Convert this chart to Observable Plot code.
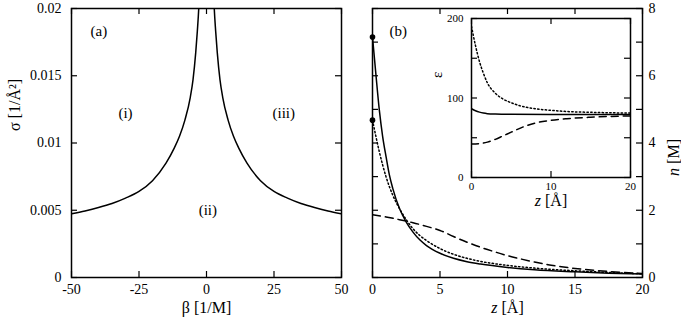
<!DOCTYPE html>
<html><head><meta charset="utf-8">
<script src="https://cdn.jsdelivr.net/npm/d3@7"></script>
<script src="https://cdn.jsdelivr.net/npm/@observablehq/plot@0.6"></script>
<style>
body{margin:0;background:#fff;}
#wrap{position:relative;width:681px;height:323px;overflow:hidden;background:#fff;}
#wrap svg{position:absolute;top:0;font-family:"Liberation Serif","Times New Roman",serif !important;}
#wrap svg text, #wrap svg tspan{font-family:"Liberation Serif","Times New Roman",serif !important;}
</style></head><body><div id="wrap"></div>
<script>
// ---- Panel (a): phase boundary sigma(beta) ----
const betaL  = [-50, -45, -40, -35, -30, -25, -20, -15, -12, -10, -8, -6, -5, -4, -3.4, -2.8, -2.5];
const sigmaL = [0.00474, 0.00495, 0.0052, 0.0055, 0.0059, 0.0064, 0.0072, 0.0085, 0.0096, 0.0105, 0.0117, 0.0134, 0.0147, 0.0167, 0.0183, 0.0203, 0.0218];
const betaR  = [2.5, 2.8, 3.4, 4, 5, 6, 8, 10, 12, 15, 20, 25, 30, 35, 40, 45, 50];
const sigmaR = [0.0218, 0.0203, 0.0183, 0.0167, 0.0147, 0.0134, 0.0117, 0.0105, 0.0096, 0.0085, 0.0072, 0.0064, 0.0059, 0.0055, 0.0052, 0.00495, 0.00474];
const aXTicks = [-50, -25, 0, 25, 50];
const aYTicks = [0, 0.005, 0.01, 0.015, 0.02];

// ---- Panel (b): density profiles n(z) ----
const zSolid = [0, 0.25, 0.5, 0.75, 1, 1.25, 1.5, 2, 2.5, 3, 3.5, 4, 5, 6, 7, 8, 10, 12, 15, 17.5, 20];
const nSolid = [7.15, 6.05, 5.0, 4.2, 3.6, 3.05, 2.65, 2.05, 1.65, 1.35, 1.12, 0.95, 0.72, 0.57, 0.47, 0.40, 0.30, 0.23, 0.17, 0.13, 0.10];
const zDot = [0, 0.25, 0.5, 0.75, 1, 1.5, 2, 2.5, 3, 3.5, 4, 5, 6, 7, 8, 10, 12, 15, 17.5, 20];
const nDot = [4.68, 4.2, 3.75, 3.35, 3.0, 2.45, 2.05, 1.72, 1.45, 1.25, 1.1, 0.86, 0.69, 0.57, 0.48, 0.36, 0.28, 0.2, 0.15, 0.11];
const zDash = [0, 1, 2, 3, 4, 5, 6, 7, 8, 9, 10, 11, 12, 13, 14, 15, 17.5, 20];
const nDash = [1.87, 1.80, 1.72, 1.63, 1.52, 1.40, 1.22, 1.05, 0.90, 0.77, 0.65, 0.55, 0.46, 0.38, 0.32, 0.27, 0.18, 0.12];
const contactZ = [0, 0];
const contactN = [7.15, 4.68];
const bXTicks = [0, 5, 10, 15, 20];
const bYTicks = [0, 1, 2, 3, 4, 5, 6, 7, 8];
const bYLabels = [0, 2, 4, 6, 8];

// ---- Inset: dielectric profiles eps(z) ----
const zEpsSolid = [0, 0.5, 1, 1.5, 2, 3, 5, 10, 20];
const epsSolid  = [86.5, 84, 82.2, 81, 80.3, 79.8, 79.5, 79.3, 79.3];
const zEpsDot = [0, 0.5, 1, 1.5, 2, 3, 4, 5, 6, 8, 10, 12, 15, 20];
const epsDot  = [190, 166, 146, 131, 119, 106, 98.5, 94, 90.5, 86.5, 84.5, 83, 82, 81];
const zEpsDash = [0, 1, 2, 3, 4, 5, 6, 7, 8, 10, 12, 15, 20];
const epsDash  = [42, 42.5, 44.5, 48, 52.5, 57, 61.5, 65.5, 68.5, 72, 74, 75.8, 77.5];
const iXTicks = [0, 10, 20];
const iYTicks = [0, 50, 100, 150, 200];
const iYLabels = [0, 100, 200];

const toRows = (xs, ys) => xs.map((x, i) => ({x, y: ys[i]}));
const FONT = "Liberation Serif, Times New Roman, serif";
const TL = 6; // tick length
const fmt = d => String(d);
const DOTS = "1.4,2.4";

function inwardTicks(xt, yt, fw, fh, sw = 1) {
  return [
    Plot.tickX(xt, {x: d => d, insetTop: fh - TL, stroke: "black", strokeWidth: sw}),
    Plot.tickX(xt, {x: d => d, insetBottom: fh - TL, stroke: "black", strokeWidth: sw}),
    Plot.tickY(yt, {y: d => d, insetRight: fw - TL, stroke: "black", strokeWidth: sw}),
    Plot.tickY(yt, {y: d => d, insetLeft: fw - TL, stroke: "black", strokeWidth: sw})
  ];
}

// Panel (a)
const A = {w: 351, h: 323, ml: 71, mr: 10, mt: 8, mb: 46};
const aFW = A.w - A.ml - A.mr, aFH = A.h - A.mt - A.mb;
const pa = Plot.plot({
  width: A.w, height: A.h, marginLeft: A.ml, marginRight: A.mr, marginTop: A.mt, marginBottom: A.mb,
  x: {domain: [-50, 50]}, y: {domain: [0, 0.02]},
  style: {fontFamily: FONT, fontSize: "14px", color: "black", background: "transparent", overflow: "visible"},
  marks: [
    Plot.line(toRows(betaL, sigmaL), {x: "x", y: "y", stroke: "black", strokeWidth: 1.5, curve: "monotone-x", clip: true}),
    Plot.line(toRows(betaR, sigmaR), {x: "x", y: "y", stroke: "black", strokeWidth: 1.5, curve: "monotone-x", clip: true}),
    ...inwardTicks(aXTicks, aYTicks, aFW, aFH, 1.2),
    Plot.frame({stroke: "black", strokeWidth: 1.5}),
    Plot.axisX({ticks: aXTicks, tickSize: 0, tickPadding: 7, tickFormat: fmt, label: null, fontSize: 14}),
    Plot.axisY({ticks: aYTicks, tickSize: 0, tickPadding: 10, tickFormat: fmt, label: null, fontSize: 14}),
    Plot.text(["σ [1/Å²]"], {frameAnchor: "left", rotate: -90, dx: -57, dy: -12, fontSize: 16}),
    Plot.text(["β [1/M]"], {frameAnchor: "bottom", dy: 35, fontSize: 16}),
    Plot.text(["(a)"], {frameAnchor: "top-left", dx: 19, dy: 17, fontSize: 15}),
    Plot.text(["(i)"], {x: -30, y: 0.0122, fontSize: 15}),
    Plot.text(["(iii)"], {x: 28.6, y: 0.0122, fontSize: 15}),
    Plot.text(["(ii)"], {x: 0.5, y: 0.005, fontSize: 15})
  ]
});

// Panel (b)
const B = {w: 341, h: 323, ml: 32, mr: 39, mt: 8, mb: 46};
const bFW = B.w - B.ml - B.mr, bFH = B.h - B.mt - B.mb;
const pb = Plot.plot({
  width: B.w, height: B.h, marginLeft: B.ml, marginRight: B.mr, marginTop: B.mt, marginBottom: B.mb,
  x: {domain: [0, 20]}, y: {domain: [0, 8]},
  style: {fontFamily: FONT, fontSize: "14px", color: "black", background: "transparent", overflow: "visible"},
  marks: [
    Plot.line(toRows(zSolid, nSolid), {x: "x", y: "y", stroke: "black", strokeWidth: 1.5, curve: "monotone-x", clip: true}),
    Plot.line(toRows(zDot, nDot), {x: "x", y: "y", stroke: "black", strokeWidth: 1.5, strokeDasharray: DOTS, curve: "monotone-x", clip: true}),
    Plot.line(toRows(zDash, nDash), {x: "x", y: "y", stroke: "black", strokeWidth: 1.5, strokeDasharray: "8,5", curve: "monotone-x", clip: true}),
    ...inwardTicks(bXTicks, bYTicks, bFW, bFH, 1.2),
    Plot.frame({stroke: "black", strokeWidth: 1.5}),
    Plot.dot(toRows(contactZ, contactN), {x: "x", y: "y", r: 2.8, fill: "black"}),
    Plot.axisX({ticks: bXTicks, tickSize: 0, tickPadding: 7, tickFormat: fmt, label: null, fontSize: 14}),
    Plot.axisY({anchor: "right", ticks: bYLabels, tickSize: 0, tickPadding: 6, tickFormat: fmt, label: null, fontSize: 14}),
    Plot.text(["z [Å]"], {frameAnchor: "bottom", dy: 35, fontSize: 16}),
    Plot.text(["n [M]"], {frameAnchor: "right", rotate: -90, dx: 31, dy: -4, fontSize: 16}),
    Plot.text(["(b)"], {frameAnchor: "top-left", dx: 17, dy: 17, fontSize: 15})
  ]
});

// Inset
const I = {w: 220, h: 215, ml: 51, mr: 10, mt: 18, mb: 38};
const iFW = I.w - I.ml - I.mr, iFH = I.h - I.mt - I.mb;
const pi = Plot.plot({
  width: I.w, height: I.h, marginLeft: I.ml, marginRight: I.mr, marginTop: I.mt, marginBottom: I.mb,
  x: {domain: [0, 20]}, y: {domain: [0, 200]},
  style: {fontFamily: FONT, fontSize: "11px", color: "black", background: "transparent", overflow: "visible"},
  marks: [
    Plot.line(toRows(zEpsSolid, epsSolid), {x: "x", y: "y", stroke: "black", strokeWidth: 1.5, curve: "monotone-x", clip: true}),
    Plot.line(toRows(zEpsDot, epsDot), {x: "x", y: "y", stroke: "black", strokeWidth: 1.5, strokeDasharray: DOTS, curve: "monotone-x", clip: true}),
    Plot.line(toRows(zEpsDash, epsDash), {x: "x", y: "y", stroke: "black", strokeWidth: 1.5, strokeDasharray: "7,5", curve: "monotone-x", clip: true}),
    ...inwardTicks(iXTicks, iYTicks, iFW, iFH, 1.2),
    Plot.frame({stroke: "black", strokeWidth: 1.5}),
    Plot.axisX({ticks: iXTicks, tickSize: 0, tickPadding: 5, tickFormat: fmt, label: null, fontSize: 11}),
    Plot.axisY({ticks: iYLabels, tickSize: 0, tickPadding: 8, tickFormat: fmt, label: null, fontSize: 11}),
    Plot.text(["z [Å]"], {frameAnchor: "bottom", dy: 28, fontSize: 16}),
    Plot.text(["ε"], {frameAnchor: "left", rotate: -90, dx: -34, dy: -20, fontSize: 15})
  ]
});

const wrap = document.getElementById("wrap");
pa.style.left = "0px";
pb.style.left = "340px";
pi.style.left = "420px";
wrap.append(pa, pb, pi);

// italic variables in axis labels
function italicize(svg, full, varName) {
  d3.select(svg).selectAll("text").filter(function() { return this.textContent === full; })
    .each(function() {
      const t = d3.select(this);
      t.text(null);
      t.append("tspan").attr("font-style", "italic").text(varName);
      t.append("tspan").text(full.slice(varName.length));
    });
}
italicize(pb, "z [Å]", "z");
italicize(pb, "n [M]", "n");
italicize(pi, "z [Å]", "z");
</script></body></html>
